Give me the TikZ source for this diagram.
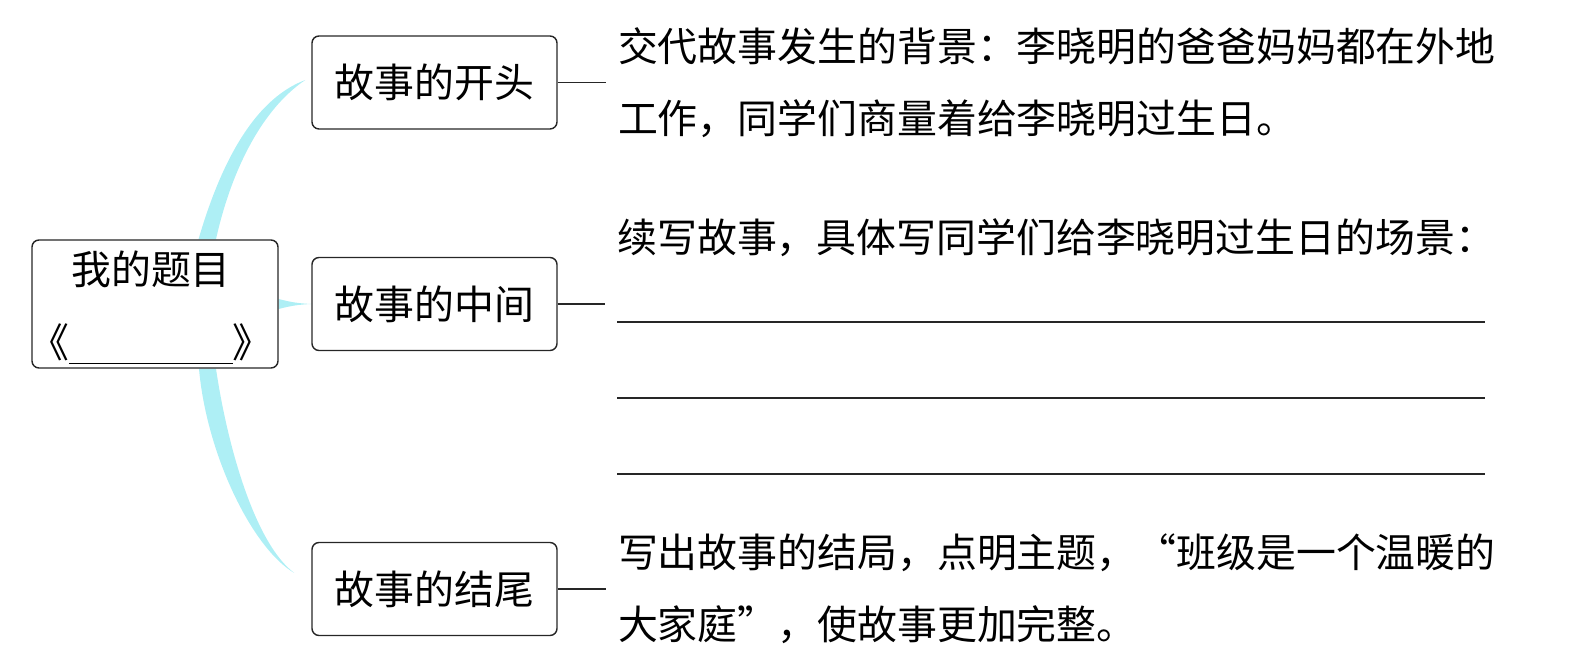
\documentclass[tikz,border=0pt]{standalone}
\usepackage{fontspec}
\setmainfont{Noto Sans CJK SC}
\definecolor{mycyan}{HTML}{AEEFF5}
\usetikzlibrary{positioning, calc, backgrounds}
\newcommand{\fwq}[1]{{\addfontfeature{RawFeature=+fwid}#1}}
\tikzset{
	titlenode/.style={
			draw=black!85,
			line width=0.8pt,
			rounded corners=4pt,
			minimum width=4.92cm,
			minimum height=2.56cm
		},
	partnode/.style={
			draw=black!85,
			line width=0.8pt,
			rounded corners=4pt,
			minimum width=4.9cm,
			minimum height=1.86cm,
			font=\fontsize{22.7}{41}\selectfont
		},
	descnode/.style={
			align=left,
			inner sep=0.24cm,
			font=\fontsize{22.7}{41}\selectfont
		},
	swoosh/.style={
			fill=mycyan,
			draw=none
		},
	thinline/.style={
			line width=0.8pt,
			draw=black!85
		}
}

\begin{document}
\begin{tikzpicture}
\useasboundingbox (0,0) rectangle (31.42,13.22);
\node[titlenode] (title) at (3.10,7.14) {};
\node[font=\fontsize{22.7}{41}\selectfont] (titleline1) at (3.02,7.84) {我的题目};
\node[font=\fontsize{22.7}{41}\selectfont] (titleline2) at (3.02,6.34) {《\rule[-0.12cm]{3.28cm}{0.7pt}》};

\node[partnode] (start) at (8.69,11.57) {故事的开头};
\node[partnode] (middle) at (8.69,7.14) {故事的中间};
\node[partnode] (ending) at (8.69,1.44) {故事的结尾};

\node[descnode, right=0.96cm of start] (starttext) {交代故事发生的背景：李晓明的爸爸妈妈都在外地\\工作，同学们商量着给李晓明过生日。};
\node[descnode, anchor=west] (middletext) at (12.10,8.46) {续写故事，具体写同学们给李晓明过生日的场景：};
\coordinate (middleend) at (12.10,7.14);
\node[descnode, right=0.96cm of ending] (endingtext) {写出故事的结局，点明主题，\fwq{“}班级是一个温暖的\\大家庭\fwq{”}，使故事更加完整。};

\draw[thinline] (start) -- (starttext);
\draw[thinline] (middle) -- (middleend);
\draw[thinline] (ending) -- (endingtext);

% lines to write on
\foreach \y in {6.78,5.26,3.74}
  \draw[thinline] (12.34,\y) -- (29.70,\y);

\begin{scope}[on background layer]
\fill[swoosh] ($(title.north)+(0.87,0)$) .. controls +(0.38,1.3) and +(-1.12,-0.42) .. ($(start.west)+(-0.12,0.05)$)
  .. controls +(-0.92,-0.62) and +(0.28,1.27) .. ($(title.north)+(1.22,0)$) -- cycle;
\fill[swoosh] ($(title.east)+(0,0.1)$) to[bend right=6] (middle.west)
  to[bend right=6] ($(title.east)+(0,-0.1)$) -- cycle;
\fill[swoosh] ($(title.south)+(0.88,0)$) .. controls +(0.15,-1.7) and +(-0.85,0.5) .. ($(ending.west)+(-0.34,0.32)$)
  .. controls +(-0.8,0.6) and +(0.22,-1.5) .. ($(title.south)+(1.22,0)$) -- cycle;
\end{scope}
\end{tikzpicture}
\end{document}
